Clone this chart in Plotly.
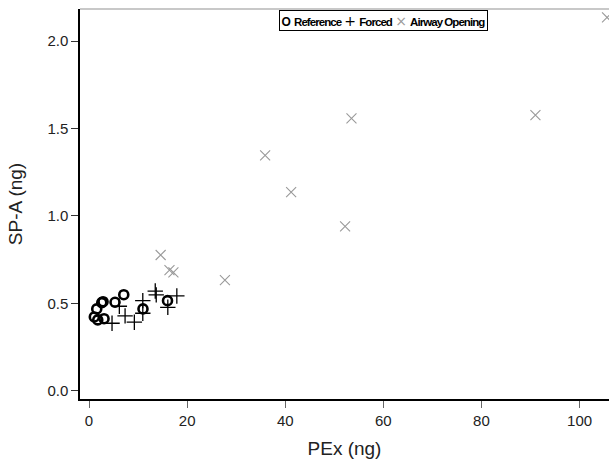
import plotly.graph_objects as go

ref_x = [1.57, 2.6, 2.86, 1.08, 1.78, 3.06, 5.3, 7.08, 11.0, 16.0]
ref_y = [0.469, 0.505, 0.51, 0.423, 0.406, 0.413, 0.507, 0.55, 0.469, 0.516]

forced_x = [4.69, 6.18, 7.35, 9.24, 10.96, 10.96, 13.5, 13.7, 16.06, 17.9]
forced_y = [0.387, 0.484, 0.429, 0.393, 0.516, 0.444, 0.571, 0.549, 0.478, 0.543]

airway_x = [14.6, 16.4, 17.2, 27.7, 35.9, 41.2, 52.2, 53.5, 91.0, 105.6]
airway_y = [0.777, 0.691, 0.678, 0.634, 1.346, 1.136, 0.94, 1.558, 1.577, 2.135]

x_ticks = [0, 20, 40, 60, 80, 100]
y_ticks = [0.0, 0.5, 1.0, 1.5, 2.0]

series_names = ["Reference", "Forced", "Airway Opening"]

FONT = "Liberation Sans, Arial, sans-serif"
GRAY = "#9a9a9a"

fig = go.Figure()
fig.add_trace(go.Scatter(
    x=ref_x, y=ref_y, mode="markers", name=series_names[0],
    marker=dict(symbol="circle-open", size=9, color="black",
                line=dict(width=2.6, color="black")),
))
fig.add_trace(go.Scatter(
    x=forced_x, y=forced_y, mode="markers", name=series_names[1],
    marker=dict(symbol="cross-thin-open", size=11, color="black",
                line=dict(width=1.3, color="black")),
))
fig.add_trace(go.Scatter(
    x=airway_x, y=airway_y, mode="markers", name=series_names[2],
    marker=dict(symbol="x-thin-open", size=10, color=GRAY,
                line=dict(width=1.1, color=GRAY)),
))

TXT = "font-weight:bold;letter-spacing:-0.95px"
legend_text = (
    "<span style='font-size:12px;font-weight:bold'>O</span> "
    f"<span style='{TXT}'>{series_names[0]}</span> "
    "<span style='font-family:DejaVu Sans;font-size:14px'>+</span> "
    f"<span style='{TXT}'>{series_names[1]}</span> "
    f"<span style='font-family:DejaVu Sans;font-size:14px;color:{GRAY}'>×</span> "
    f"<span style='{TXT}'>{series_names[2]}</span>"
)

fig.update_layout(
    width=609, height=463,
    margin=dict(l=80, r=0, t=9, b=64),
    paper_bgcolor="white", plot_bgcolor="white",
    font=dict(family=FONT, color="#222"),
    showlegend=False,
    annotations=[dict(
        xref="paper", yref="paper", x=0.5728, y=0.9705,
        xanchor="center", yanchor="middle", showarrow=False,
        text=legend_text, font=dict(family=FONT, size=11.5, color="black"),
        bordercolor="black", borderwidth=1, borderpad=1.5, bgcolor="white",
    )],
    xaxis=dict(
        range=[-1.84, 106.0], tickvals=x_ticks, ticktext=[str(v) for v in x_ticks],
        showgrid=False, zeroline=False, showline=True, linecolor="black", linewidth=1.5,
        ticks="outside", ticklen=7, tickwidth=1.2, tickcolor="#666",
        tickfont=dict(size=15, color="#222"),
        title=dict(text="PEx (ng)", font=dict(size=19, color="#222"), standoff=14),
    ),
    yaxis=dict(
        range=[-0.046, 2.183], tickvals=y_ticks, ticktext=[f"{v:.1f}" for v in y_ticks],
        showgrid=False, zeroline=False, showline=True, linecolor="black", linewidth=1.5,
        ticks="outside", ticklen=7, tickwidth=1.2, tickcolor="#333",
        tickfont=dict(size=15, color="#222"),
        title=dict(text="SP-A (ng)", font=dict(size=19, color="#222"), standoff=20),
    ),
    shapes=[dict(type="line", xref="paper", yref="paper", x0=0, x1=1, y0=1, y1=1,
                 line=dict(color="#c8c8c8", width=2))],
)

fig.write_html("out.html")
